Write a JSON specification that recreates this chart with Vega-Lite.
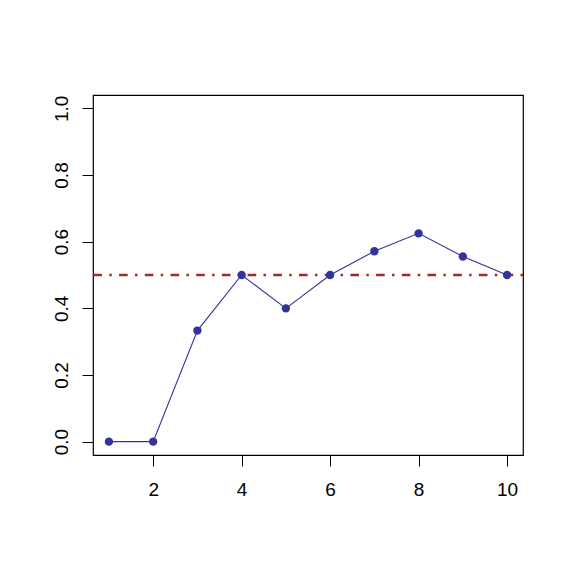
{
  "$schema": "https://vega.github.io/schema/vega-lite/v6.json",
  "width": 430,
  "height": 360,
  "autosize": {"type": "none"},
  "padding": {"left": 93, "top": 95, "right": 48, "bottom": 116},
  "background": "white",
  "config": {
    "view": {"stroke": "black", "strokeWidth": 1.2},
    "font": "Liberation Sans",
    "axis": {
      "grid": false,
      "domain": false,
      "tickColor": "black",
      "tickSize": 11,
      "tickWidth": 1,
      "labelFont": "Liberation Sans",
      "labelFontSize": 19,
      "labelColor": "black",
      "title": null
    }
  },
  "data": {
    "values": [
      {"x": 1, "y": 0},
      {"x": 2, "y": 0},
      {"x": 3, "y": 0.3333},
      {"x": 4, "y": 0.5},
      {"x": 5, "y": 0.4},
      {"x": 6, "y": 0.5},
      {"x": 7, "y": 0.5714},
      {"x": 8, "y": 0.625},
      {"x": 9, "y": 0.5556},
      {"x": 10, "y": 0.5}
    ]
  },
  "layer": [
    {
      "mark": {"type": "rule", "color": "#A82828", "strokeWidth": 2.6, "strokeDash": [2.5, 7.3, 8.6, 7.3]},
      "data": {"values": [{"h": 0.5}]},
      "encoding": {"y": {"field": "h", "type": "quantitative"}}
    },
    {
      "mark": {"type": "line", "color": "#333399", "strokeWidth": 1.1},
      "encoding": {
        "x": {"field": "x", "type": "quantitative"},
        "y": {"field": "y", "type": "quantitative"}
      }
    },
    {
      "mark": {"type": "point", "filled": true, "color": "#333399", "opacity": 1, "size": 70},
      "encoding": {
        "x": {
          "field": "x",
          "type": "quantitative",
          "scale": {"domain": [0.64, 10.36], "nice": false, "zero": false},
          "axis": {"values": [2, 4, 6, 8, 10], "format": "d", "labelPadding": 14, "labelBaseline": "top", "labelFlush": false}
        },
        "y": {
          "field": "y",
          "type": "quantitative",
          "scale": {"domain": [-0.04, 1.04], "nice": false, "zero": false},
          "axis": {"values": [0, 0.2, 0.4, 0.6, 0.8, 1.0], "format": ".1f", "labelAngle": 270, "labelAlign": "center", "labelBaseline": "alphabetic", "labelPadding": 15, "labelFlush": false}
        }
      }
    }
  ]
}
